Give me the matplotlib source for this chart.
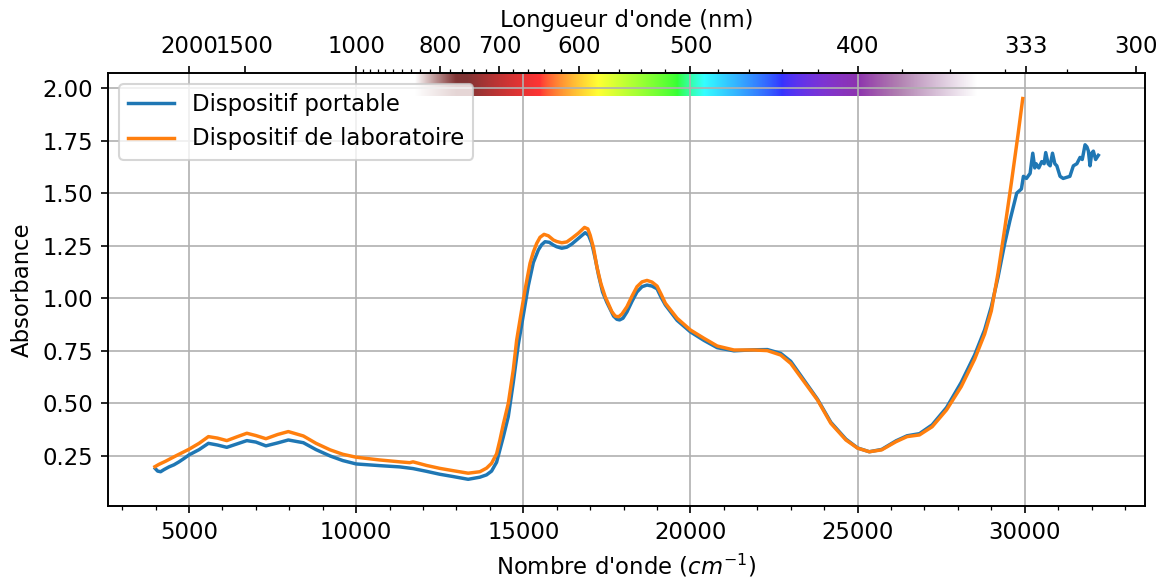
import numpy as np
import matplotlib
matplotlib.use("Agg")
import matplotlib.pyplot as plt

plt.rcParams["font.size"] = 10.9
plt.rcParams["lines.linewidth"] = 1.65

# Dispositif de laboratoire
wn_lab = [3980, 4100, 4300, 4600, 5000, 5300, 5580, 5850, 6130, 6450, 6730, 7000,
          7300, 7650, 7970, 8420, 8800, 9220, 9600, 10000, 10700, 11300, 11600, 11700,
          12100, 12500, 12900, 13350, 13700, 13900, 14050, 14200, 14300, 14400, 14550,
          14700, 14800, 14900, 15050, 15200, 15300, 15400, 15500, 15620, 15750, 15900,
          16000, 16150, 16300, 16450, 16650, 16830, 16930, 17000, 17100, 17200, 17320,
          17450, 17650, 17750, 17850, 17950, 18100, 18250, 18400, 18550, 18700, 18850,
          19000, 19120, 19250, 19600, 20000, 20400, 20800, 21300, 21900, 22300, 22700,
          23000, 23400, 23800, 24200, 24650, 25000, 25350, 25720, 26150, 26480, 26850,
          27230, 27660, 28100, 28500, 28800, 29000, 29200, 29400, 29600, 29800, 29940]
abs_lab = [0.199, 0.21, 0.225, 0.25, 0.282, 0.31, 0.342, 0.335, 0.323, 0.342, 0.358, 0.347,
           0.332, 0.352, 0.366, 0.345, 0.31, 0.279, 0.258, 0.244, 0.231, 0.222, 0.218, 0.222,
           0.205, 0.191, 0.18, 0.168, 0.175, 0.192, 0.215, 0.26, 0.326, 0.40, 0.50,
           0.66, 0.80, 0.897, 1.039, 1.166, 1.22, 1.261, 1.29, 1.304, 1.297, 1.277,
           1.27, 1.264, 1.268, 1.285, 1.31, 1.337, 1.33, 1.30, 1.24, 1.15, 1.07,
           1.007, 0.936, 0.915, 0.912, 0.925, 0.96, 1.01, 1.055, 1.078, 1.085, 1.077,
           1.058, 1.02, 0.976, 0.905, 0.849, 0.81, 0.773, 0.754, 0.754, 0.751, 0.73,
           0.69, 0.603, 0.516, 0.405, 0.326, 0.287, 0.27, 0.279, 0.318, 0.342, 0.35,
           0.389, 0.469, 0.58, 0.71, 0.83, 0.94, 1.12, 1.33, 1.55, 1.78, 1.95]

# Dispositif portable
wn_port = [3990, 4060, 4150, 4250, 4400, 4550, 4700, 4850, 5000, 5300, 5580, 5850, 6130,
           6450, 6730, 7000, 7300, 7650, 7970, 8420, 8800, 9220, 9600, 10000, 10700, 11300,
           11700, 12100, 12500, 12900, 13350, 13700, 13900, 14050, 14200, 14300, 14400,
           14550, 14700, 14850, 15000, 15150, 15300, 15450, 15550, 15650, 15780, 15900,
           16000, 16150, 16300, 16450, 16650, 16850, 16950, 17050, 17150, 17250, 17370,
           17500, 17700, 17800, 17880, 17980, 18100, 18250, 18400, 18550, 18700, 18850,
           19000, 19120, 19250, 19600, 20000, 20400, 20800, 21300, 21900, 22300, 22700,
           23000, 23400, 23800, 24200, 24650, 25000, 25350, 25720, 26150, 26480, 26850,
           27230, 27660, 28100, 28500, 28800, 29000, 29200, 29400, 29560, 29760, 29900,
           29960, 30050, 30160, 30240, 30300, 30340, 30420, 30508, 30580, 30627, 30700,
           30760, 30830, 30900, 30960, 31056, 31150, 31255, 31350, 31454, 31560, 31654,
           31720, 31804, 31860, 31904, 31953, 32003, 32052, 32120, 32202]
abs_port = [0.19, 0.178, 0.175, 0.185, 0.198, 0.208, 0.222, 0.238, 0.255, 0.28, 0.31, 0.302, 0.291,
            0.308, 0.323, 0.316, 0.298, 0.312, 0.326, 0.313, 0.28, 0.25, 0.228, 0.212, 0.204, 0.198,
            0.19, 0.177, 0.163, 0.152, 0.139, 0.149, 0.16, 0.178, 0.22, 0.279, 0.34,
            0.437, 0.6, 0.78, 0.92, 1.06, 1.17, 1.23, 1.255, 1.269, 1.266, 1.253,
            1.245, 1.238, 1.243, 1.258, 1.285, 1.312, 1.30, 1.26, 1.19, 1.11, 1.03,
            0.98, 0.915, 0.9, 0.897, 0.905, 0.935, 0.985, 1.03, 1.055, 1.063, 1.058,
            1.045, 1.005, 0.968, 0.895, 0.84, 0.80, 0.765, 0.75, 0.755, 0.756, 0.738,
            0.70, 0.61, 0.52, 0.41, 0.33, 0.288, 0.27, 0.281, 0.322, 0.346, 0.356,
            0.398, 0.48, 0.60, 0.73, 0.85, 0.96, 1.10, 1.26, 1.372, 1.50, 1.52,
            1.58, 1.57, 1.594, 1.69, 1.62, 1.64, 1.62, 1.65, 1.64, 1.693, 1.64,
            1.63, 1.69, 1.64, 1.63, 1.58, 1.57, 1.575, 1.58, 1.63, 1.64, 1.67,
            1.66, 1.73, 1.72, 1.70, 1.63, 1.69, 1.70, 1.66, 1.68]

# top axis (wavelength, nm)
lambda_major = [2000, 1500, 1000, 800, 700, 600, 500, 400, 333, 300]
lambda_minor = [l for l in range(300, 1001, 20) if l not in lambda_major]


def wavelength_to_rgb(wl, gamma=0.8):
    w = min(max(wl, 380.0), 750.0)
    if w <= 440:
        att = 0.3 + 0.7 * (w - 380) / 60
        r, g, b = ((440 - w) / 60 * att) ** gamma, 0.0, att ** gamma
    elif w <= 490:
        r, g, b = 0.0, ((w - 440) / 50) ** gamma, 1.0
    elif w <= 510:
        r, g, b = 0.0, 1.0, ((510 - w) / 20) ** gamma
    elif w <= 580:
        r, g, b = ((w - 510) / 70) ** gamma, 1.0, 0.0
    elif w <= 645:
        r, g, b = 1.0, ((645 - w) / 65) ** gamma, 0.0
    else:
        att = 0.3 + 0.7 * (750 - w) / 105
        r, g, b = att ** gamma, 0.0, 0.0
    # fade out at both ends
    if wl < 400:
        a = max(0.0, (wl - 350) / 50)
    elif wl > 770:
        a = max(0.0, (850 - wl) / 80)
    else:
        a = 1.0
    return (r, g, b, 0.8 * a)


fig, ax = plt.subplots(figsize=(1166 / 150, 581 / 150), dpi=150)
fig.subplots_adjust(left=0.0924, right=0.9823, bottom=0.1291, top=0.8749)

ax.plot(wn_port, abs_port, label="Dispositif portable")
ax.plot(wn_lab, abs_lab, label="Dispositif de laboratoire")

xlim = (2568, 33608)
ylim = (0.012, 2.073)

# spectrum band
k = np.arange(11500, 29001, 10)
img = np.array([[wavelength_to_rgb(1e7 / v) for v in k]])
ax.imshow(img, extent=[k[0], k[-1], 1.962, ylim[1]], aspect="auto",
          interpolation="bilinear", zorder=0)

ax.set_xlim(*xlim)
ax.set_ylim(*ylim)
ax.xaxis.set_minor_locator(matplotlib.ticker.MultipleLocator(1000))
ax.grid(True)
ax.set_xlabel("Nombre d'onde ($cm^{-1}$)")
ax.set_ylabel("Absorbance")
ax.legend(loc="upper left")

ax2 = ax.twiny()
ax2.set_xlim(*xlim)
ax2.set_xticks([1e7 / l for l in lambda_major])
ax2.set_xticklabels([str(l) for l in lambda_major])
ax2.set_xticks([1e7 / l for l in lambda_minor], minor=True)
ax2.set_xlabel("Longueur d'onde (nm)")

fig.savefig("out.png", dpi=150)
